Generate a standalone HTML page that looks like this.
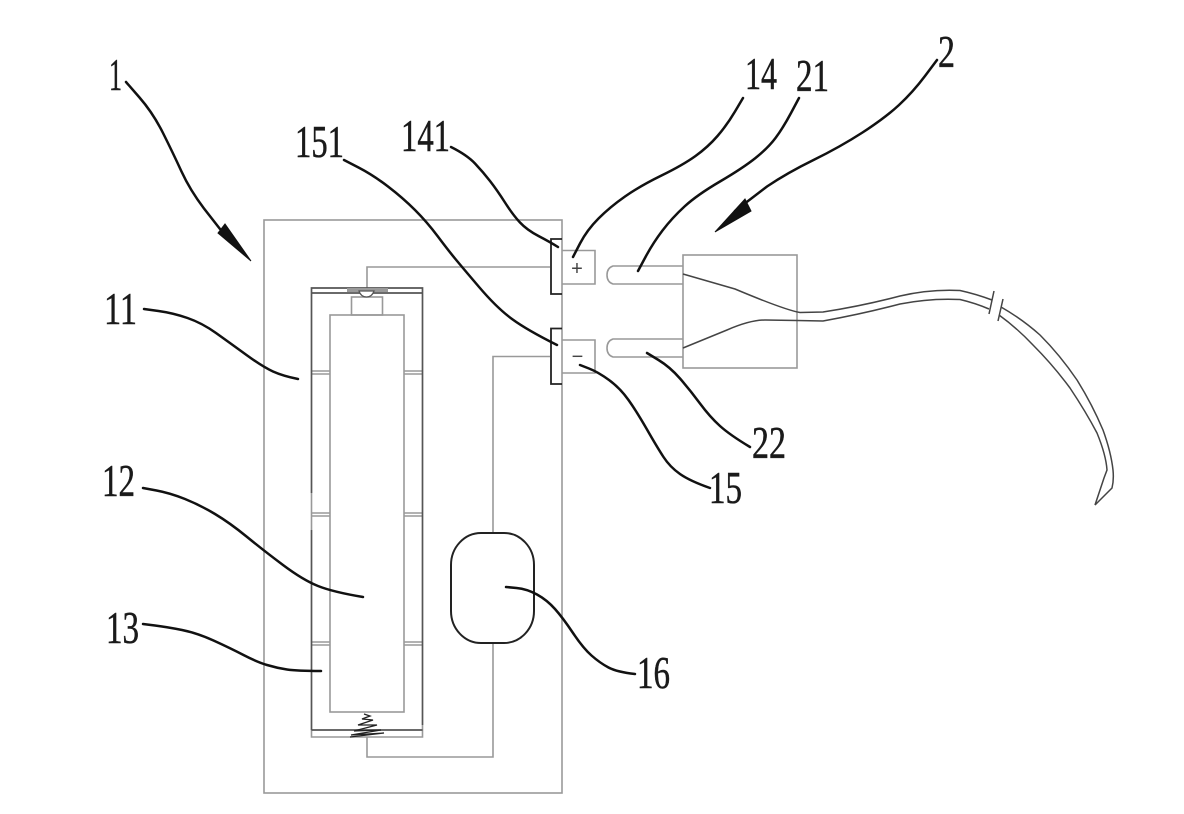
<!DOCTYPE html>
<html><head><meta charset="utf-8"><style>html,body{margin:0;padding:0;background:#fff}svg{display:block}text{font-family:"Liberation Serif",serif;font-size:45px;fill:#1a1a1a;stroke:#1a1a1a;stroke-width:.5px}</style></head>
<body>
<svg width="1184" height="814" viewBox="0 0 1184 814" xmlns="http://www.w3.org/2000/svg">
<g fill="none" stroke="#999" stroke-width="1.600">
<rect x="264" y="220" width="298" height="573"/>
<rect x="330" y="315" width="74" height="397"/>
<rect x="351.500" y="297" width="31" height="18"/>
<path d="M367 288V267H550M550 356.500H493V533M493 643V757H367V737"/>
<path d="M311 371H330M311 374H330M404 371H422M404 374H422M311 513H330M311 516H330M404 513H422M404 516H422M311 642H330M311 645H330M404 642H422M404 645H422"/>
<path d="M311.500 493V530M422.500 725V737H311.500V730"/>
<path d="M562 250.500H595V284H562M562 340H595V373H562"/>
<path d="M683 266H613Q607 268 607 275Q607 282 613 284H683M683 339H613Q607 341 607 348Q607 355 613 357H683"/>
<rect x="683" y="255" width="114" height="113"/>
</g>
<g fill="none" stroke="#555" stroke-width="1.700">
<path d="M311.500 493V288H422.500V725M311.500 530V730M311.500 293H422.500M311.500 730H422.500"/>
</g>
<rect x="347" y="288" width="41" height="4" fill="#999"/>
<path d="M359 291H374Q372 297 366.500 297Q361 297 359 291Z" fill="#fff" stroke="#555" stroke-width="1.200"/>
<path d="M364 714L370 716L362 719L373 720L358 725L377 725L354 731L381 730L351 735L384 733L350 737" fill="none" stroke="#222" stroke-width="1.300"/>
<path d="M562 239H551V294H562M562 328.500H551V384H562" fill="none" stroke="#222" stroke-width="1.800"/>
<rect x="451" y="533" width="83" height="110" rx="30" ry="32" fill="#fff" stroke="#222" stroke-width="2"/>
<g fill="none" stroke="#444" stroke-width="1.500">
<path d="M683 274L735 289Q785 310 800 312.500L823 312Q862 306 900 296Q930 289 960 290.500Q976 294 992 300"/>
<path d="M683 348L727 330Q750 320 765 320L797 320.500L823 321Q862 314 900 304Q930 298 960 299.500Q975 303 989 309"/>
<path d="M994 291L989 314M1003 299L998 321"/>
<path d="M1001 307Q1022 319 1040 335Q1060 355 1077 380Q1092 404 1103 430Q1111 452 1113 470Q1114 480 1112 488L1095 505"/>
<path d="M999 315Q1017 328 1033 345Q1053 365 1070 388Q1086 412 1097 433Q1106 455 1107 470L1104 478L1095 505"/>
</g>
<g fill="none" stroke="#111" stroke-width="2.500" stroke-linecap="round">
<path d="M126 82L139.500 97.500Q153 113 163 133Q173 153 181.500 171.500Q190 190 204 208.500L220 229"/>
<path d="M344 160L358.500 167.500Q373 175 388 186.500Q403 198 415 210Q427 222 437.500 236Q448 250 455 258.500Q462 267 479.500 287.500Q497 308 512 319Q527 330 557 345"/>
<path d="M451 147Q467 155 475 163.500Q483 172 490 181Q497 190 505 202.500Q513 215 520 222.500Q527 230 538.500 236Q550 242 558 247"/>
<path d="M743 98L735 111.500Q727 125 717.500 136Q708 147 695.500 156Q683 165 661.500 175.500Q640 186 625 196.500Q610 207 598.500 218.500Q587 230 580 243.500L573 257"/>
<path d="M799 98L791 113Q783 128 775.500 138Q768 148 755.500 158Q743 168 720 181.500Q697 195 684.500 206.500Q672 218 662.500 230.500Q653 243 645.500 257L638 271"/>
<path d="M937 60L925 76Q913 92 899 105Q885 118 862.500 132.500Q840 147 813.500 160Q787 173 767 186.500L735 211"/>
<path d="M647 353L658.500 360Q670 367 680 378.500Q690 390 700 403.500Q710 417 720 426Q730 435 750 447"/>
<path d="M580 365L589 368.500Q598 372 609 380Q620 388 628.500 400Q637 412 647 429.500Q657 447 663.500 457Q670 467 680 474Q690 481 710 488"/>
<path d="M144 309L158.500 311Q173 313 187.500 318Q202 323 216 333Q230 343 246.500 355Q263 367 273 371.500Q283 376 298 379"/>
<path d="M143 488L156.500 490.500Q170 493 185 499Q200 505 215 514Q230 523 246.500 536.500Q263 550 283 565Q303 580 318 586Q333 592 363 597"/>
<path d="M143 624L155 625.500Q167 627 182 630Q197 633 213.500 640.500Q230 648 243.500 655Q257 662 267 665Q277 668 287 669.500Q297 671 321 671"/>
<path d="M506 587L516.500 588Q527 589 537 594.500Q547 600 555 609Q563 618 573 633Q583 648 591.500 655.500Q600 663 608.500 667.500Q617 672 635 674"/>
</g>
<polygon points="251,261 225,224 218,233" fill="#111" stroke="#111"/>
<polygon points="715,232 745,199 751,211" fill="#111" stroke="#111"/>
<text x="109" y="90" textLength="13" lengthAdjust="spacingAndGlyphs">1</text>
<text x="401" y="151" textLength="49" lengthAdjust="spacingAndGlyphs">141</text>
<text x="295" y="157" textLength="49" lengthAdjust="spacingAndGlyphs">151</text>
<text x="745" y="89" textLength="32" lengthAdjust="spacingAndGlyphs">14</text>
<text x="796" y="91" textLength="33" lengthAdjust="spacingAndGlyphs">21</text>
<text x="938" y="67" textLength="17" lengthAdjust="spacingAndGlyphs">2</text>
<text x="752" y="458" textLength="34" lengthAdjust="spacingAndGlyphs">22</text>
<text x="709" y="503" textLength="33" lengthAdjust="spacingAndGlyphs">15</text>
<text x="104" y="324" textLength="33" lengthAdjust="spacingAndGlyphs">11</text>
<text x="102" y="496" textLength="33" lengthAdjust="spacingAndGlyphs">12</text>
<text x="106" y="643" textLength="33" lengthAdjust="spacingAndGlyphs">13</text>
<text x="637" y="688" textLength="33" lengthAdjust="spacingAndGlyphs">16</text>
<text x="577" y="275" text-anchor="middle" style="font-family:'Liberation Sans',sans-serif;font-size:20px;fill:#444;stroke:none">+</text>
<text x="577.500" y="363" text-anchor="middle" style="font-family:'Liberation Sans',sans-serif;font-size:20px;fill:#444;stroke:none">−</text>
</svg>
</body></html>
